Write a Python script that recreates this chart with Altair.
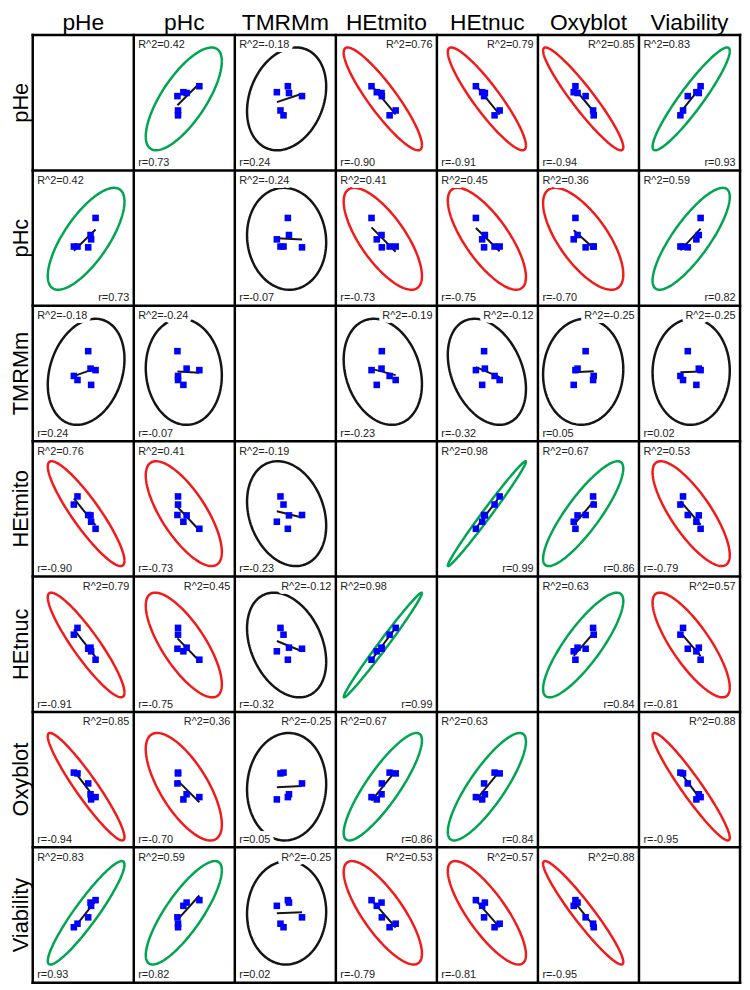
import numpy as np
import pandas as pd
import altair as alt

VARS = ["pHe", "pHc", "TMRMm", "HEtmito", "HEtnuc", "Oxyblot", "Viability"]

# six samples, each variable as its (unitless) position inside a panel, 0..1
pHe = [0.622, 0.578, 0.572, 0.549, 0.443, 0.407]
pHc = [0.649, 0.491, 0.523, 0.432, 0.438, 0.438]
TMRMm = [0.525, 0.416, 0.536, 0.665, 0.452, 0.482]
HEtmito = [0.353, 0.405, 0.452, 0.455, 0.592, 0.532]
HEtnuc = [0.386, 0.448, 0.475, 0.467, 0.621, 0.571]
Oxyblot = [0.371, 0.354, 0.392, 0.472, 0.546, 0.552]
Viability = [0.610, 0.568, 0.592, 0.483, 0.436, 0.410]
SAMPLES = {"pHe": pHe, "pHc": pHc, "TMRMm": TMRMm, "HEtmito": HEtmito,
           "HEtnuc": HEtnuc, "Oxyblot": Oxyblot, "Viability": Viability}

# statistics printed in the panels, upper triangle in row order
R2_UPPER = [0.42, -0.18, 0.76, 0.79, 0.85, 0.83,
            -0.24, 0.41, 0.45, 0.36, 0.59,
            -0.19, -0.12, -0.25, -0.25,
            0.98, 0.67, 0.53,
            0.63, 0.57,
            0.88]
R_UPPER = [0.73, 0.24, -0.90, -0.91, -0.94, 0.93,
           -0.07, -0.73, -0.75, -0.70, 0.82,
           -0.23, -0.32, 0.05, 0.02,
           0.99, 0.86, -0.79,
           0.84, -0.81,
           -0.95]

# corner of each label (L = left, R = right), rows top to bottom
R2_SIDE = ["-LLRRRL", "L-LLLLL", "LL-RRRR", "LLL-LLL", "RRRL-LR", "RRRLL-R", "LLRRRR-"]
R_SIDE = ["-LLLLLR", "R-LLLLR", "LL-LLLL", "LLL-RRL", "LLLR-RL", "LLLRR-L", "LLLLLL-"]

GRID = list(range(8))  # panel boundaries
PLOT_W, PLOT_H = 715, 958
K = 4.5  # prediction-ellipse scale for n = 6

n = len(VARS)
R2 = [[None] * n for _ in range(n)]
R = [[None] * n for _ in range(n)]
k = 0
for i in range(n):
    for j in range(i + 1, n):
        R2[i][j] = R2[j][i] = R2_UPPER[k]
        R[i][j] = R[j][i] = R_UPPER[k]
        k += 1

t = np.linspace(0, 2 * np.pi, 145)
pts_rows, ell_rows, lab_rows = [], [], []
for i, rv in enumerate(VARS):
    for j, cv in enumerate(VARS):
        if i == j:
            continue
        panel = f"{i}-{j}"
        ox, oy = j, n - 1 - i  # panel origin in the grid
        xs = np.array(SAMPLES[cv]); ys = np.array(SAMPLES[rv])
        r = R[i][j]
        cat = "pos" if r >= 0.5 else ("neg" if r <= -0.5 else "ns")
        for a, b in zip(xs, ys):
            pts_rows.append(dict(panel=panel, x=ox + a, y=oy + b))
        mx, my = xs.mean(), ys.mean()
        sx, sy = xs.std(ddof=1), ys.std(ddof=1)
        ex = mx + K * sx * np.cos(t)
        ey = my + K * sy * (r * np.cos(t) + np.sqrt(1 - r * r) * np.sin(t))
        for o, (a, b) in enumerate(zip(ex, ey)):
            ell_rows.append(dict(panel=panel, x=ox + a, y=oy + b, o=o, cat=cat))
        s2 = R2_SIDE[i][j]
        lab_rows.append(dict(text=f"R^2={R2[i][j]:.2f}", h=s2, v="T",
                             x=ox + (0 if s2 == "L" else 1), y=oy + 1))
        s1 = R_SIDE[i][j]
        lab_rows.append(dict(text=f"r={r:.2f}", h=s1, v="B",
                             x=ox + (0 if s1 == "L" else 1), y=oy))
pts_df = pd.DataFrame(pts_rows)
ell_df = pd.DataFrame(ell_rows)
lab_df = pd.DataFrame(lab_rows)
col_df = pd.DataFrame({"text": VARS, "x": [c + 0.5 for c in range(n)], "y": [n] * n})
row_df = pd.DataFrame({"text": VARS, "x": [0] * n, "y": [n - 1 - r + 0.5 for r in range(n)]})
grid_df = pd.DataFrame({"b": GRID})

xs_ = alt.Scale(domain=[0, n], nice=False, zero=False)
ys_ = alt.Scale(domain=[0, n], nice=False, zero=False)
X = alt.X("x:Q", scale=xs_, axis=None)
Y = alt.Y("y:Q", scale=ys_, axis=None)

ellipse = alt.Chart(ell_df).mark_line(strokeWidth=2.5, clip=True).encode(
    x=X, y=Y, order="o:Q", detail="panel:N",
    color=alt.Color("cat:N", scale=alt.Scale(domain=["pos", "neg", "ns"],
                                             range=["#00A550", "#F21A1A", "#151515"]),
                    legend=None))
reg = alt.Chart(pts_df).transform_regression("x", "y", groupby=["panel"]).mark_line(
    color="#151515", strokeWidth=2).encode(x=X, y=Y, detail="panel:N")
pts = alt.Chart(pts_df).mark_square(size=44, color="#0000FF", opacity=1).encode(x=X, y=Y)

halos, texts = [], []
for h in ("L", "R"):
    for v in ("T", "B"):
        sub = alt.Chart(lab_df).transform_filter(
            f"datum.h == '{h}' && datum.v == '{v}'")
        kw = dict(align="left" if h == "L" else "right", baseline="alphabetic",
                  font="Liberation Sans", fontSize=11,
                  dx=4.5 if h == "L" else -4.5, dy=13.5 if v == "T" else -4.5)
        halos.append(sub.mark_text(fill="white", stroke="white", strokeWidth=8,
                                   strokeJoin="round", **kw).encode(x=X, y=Y, text="text:N"))
        texts.append(sub.mark_text(color="#222222", **kw).encode(x=X, y=Y, text="text:N"))

vlines = alt.Chart(grid_df).mark_rule(color="black", strokeWidth=2.5, strokeCap="square").encode(
    x=alt.X("b:Q", scale=xs_, axis=None))
hlines = alt.Chart(grid_df).mark_rule(color="black", strokeWidth=2.5, strokeCap="square").encode(
    y=alt.Y("b:Q", scale=ys_, axis=None))

col_head = alt.Chart(col_df).mark_text(
    font="Liberation Sans", fontSize=23, color="black", align="center",
    baseline="alphabetic", dy=-5).encode(x=X, y=Y, text="text:N")
row_head = alt.Chart(row_df).mark_text(
    font="Liberation Sans", fontSize=22, color="black", align="center",
    baseline="alphabetic", angle=270, dy=-5).encode(x=X, y=Y, text="text:N")

chart = alt.layer(ellipse, reg, pts, *halos, *texts, vlines, hlines, col_head, row_head).properties(
    width=PLOT_W, height=PLOT_H,
    padding={"left": 25, "top": 22, "right": 2, "bottom": 1.5},
    autosize=alt.AutoSizeParams(type="none"),
).configure_view(stroke=None)

chart.save("out.html", embed_options={"renderer": "svg", "actions": False})
